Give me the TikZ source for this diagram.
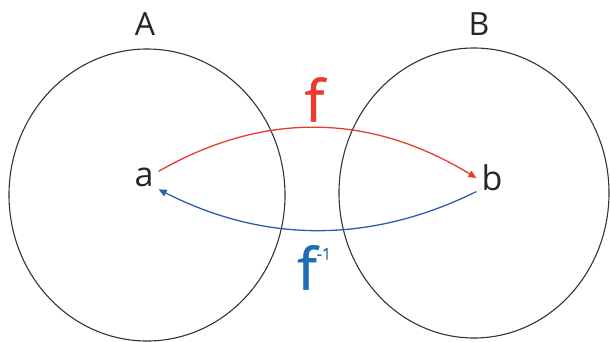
\documentclass[tikz,border=0pt]{standalone}
\usepackage{fontspec}
\setmainfont{Open Sans}
\newfontfamily\heavyfont{Open Sans}[FakeBold=1.0]
\usetikzlibrary{arrows.meta}
\definecolor{setgray}{HTML}{333333}
\definecolor{fred}{HTML}{EA3B2E}
\definecolor{fblue}{HTML}{2C5DAD}
\definecolor{ftblue}{HTML}{1E6DB6}
\begin{document}
\begin{tikzpicture}[x=1pt,y=-1pt,
  setshape/.style={draw=setgray,line width=1.1pt},
  settitle/.style={inner sep=0pt,text=black!85,font=\fontsize{32}{32}\selectfont},
  elem/.style={inner sep=5pt,text=black!85,font=\fontsize{34}{34}\selectfont},
  fwd/.style={draw=fred,line width=1.3pt,-{Triangle[length=8pt,width=7pt]}},
  bwd/.style={draw=fblue,line width=1.3pt,-{Triangle[length=8pt,width=7pt]}},
  flabel/.style={inner sep=0pt,font=\heavyfont\fontsize{58}{58}\selectfont}]
\useasboundingbox (0,0) rectangle (610,341);
\draw[setshape] (147,195) ellipse [x radius=138, y radius=146];
\draw[setshape] (474,193) ellipse [x radius=135, y radius=145];
\node[settitle] (A) at (145,24.5) {A};
\node[settitle] (B) at (479,24) {B};
\node[elem] (a) at (144,177.5) {a};
\node[elem] (b) at (492,178) {b};
\draw[fwd] (a.23) .. controls (264,111) and (370,113) .. (b.180);
\draw[bwd] (b.221) .. controls (370,244) and (264,243) .. (a.-39);
\node[flabel,text=fred] (f) at (314.5,99.5) {f};
\node[flabel,text=ftblue,anchor=north west] (finv) at (297,245) {f\raisebox{30pt}{\fontsize{16}{16}\selectfont -1}};
\end{tikzpicture}
\end{document}
